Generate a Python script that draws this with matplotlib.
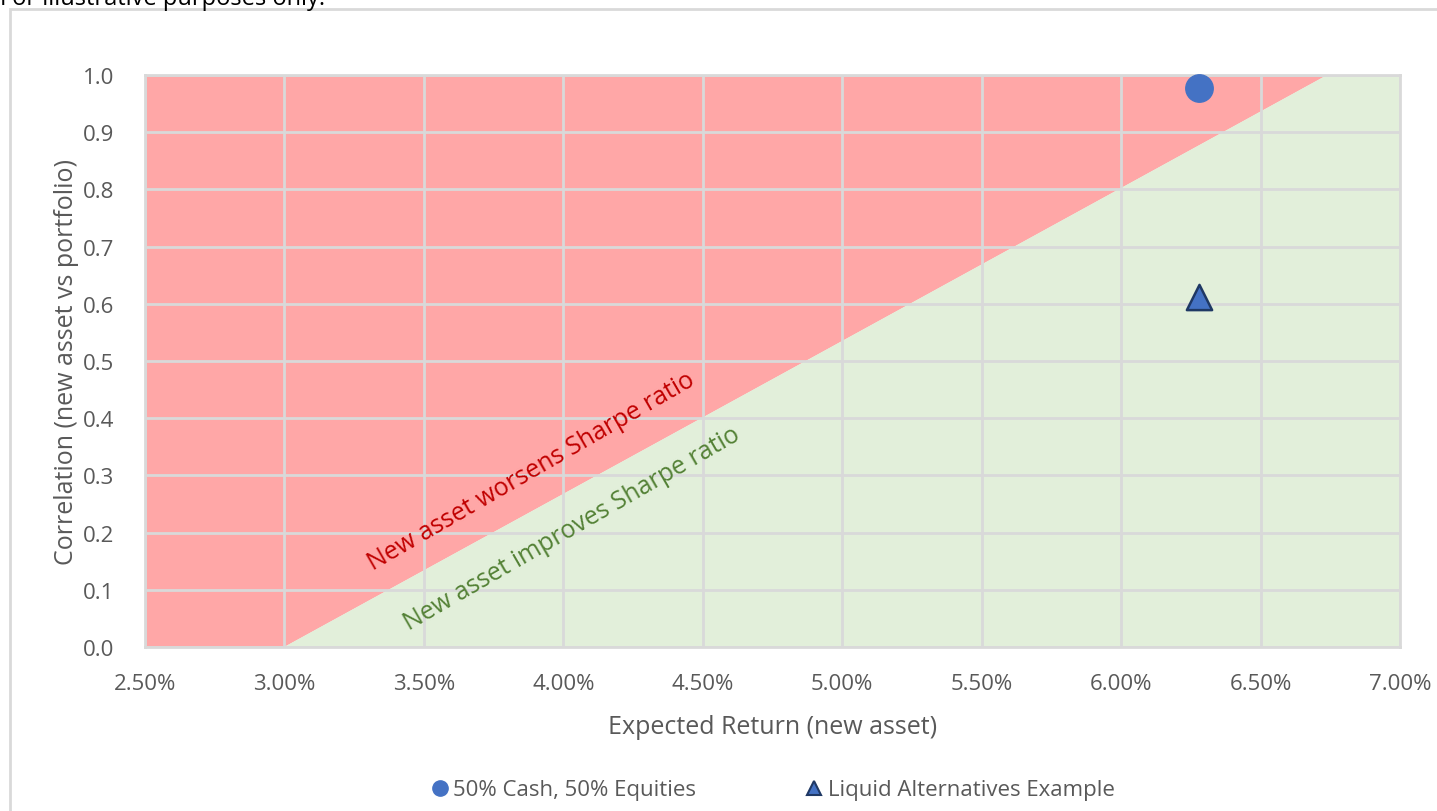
import numpy as np
import matplotlib.pyplot as plt
from matplotlib.patches import Rectangle
from matplotlib.lines import Line2D
from matplotlib.ticker import FuncFormatter

plt.rcParams['font.family'] = ['Open Sans', 'DejaVu Sans']

# Boundary between "worsens" and "improves" regions (expected return %, correlation)
boundary_x = [3.00, 6.74]
boundary_y = [0.0, 1.0]

# Example points
cash_eq_x = [6.28]
cash_eq_y = [0.977]
liq_alt_x = [6.28]
liq_alt_y = [0.612]

x_ticks = [2.5, 3.0, 3.5, 4.0, 4.5, 5.0, 5.5, 6.0, 6.5, 7.0]
y_ticks = [0.0, 0.1, 0.2, 0.3, 0.4, 0.5, 0.6, 0.7, 0.8, 0.9, 1.0]

grey = '#595959'
grid_col = '#D9D9D9'

fig = plt.figure(figsize=(14.37, 8.12), dpi=100)
ax = fig.add_axes([145 / 1437, 164 / 812, 1255 / 1437, 572 / 812])

xmin, xmax = x_ticks[0], x_ticks[-1]
ymin, ymax = y_ticks[0], y_ticks[-1]

# Shaded regions
red_x = [xmin, boundary_x[0], boundary_x[1], xmin]
red_y = [ymin, boundary_y[0], boundary_y[1], ymax]
green_x = [boundary_x[0], xmax, xmax, boundary_x[1]]
green_y = [boundary_y[0], ymin, ymax, boundary_y[1]]
ax.fill(red_x, red_y, color='#FFA7A7', lw=0, zorder=0)
ax.fill(green_x, green_y, color='#E2EFDA', lw=0, zorder=0)

ax.set_xlim(xmin, xmax)
ax.set_ylim(ymin, ymax)
ax.set_xticks(x_ticks)
ax.set_yticks(y_ticks)
ax.xaxis.set_major_formatter(FuncFormatter(lambda v, p: f'{v:.2f}%'))
ax.yaxis.set_major_formatter(FuncFormatter(lambda v, p: f'{v:.1f}'))
ax.tick_params(length=0, labelsize=16, colors=grey)
ax.tick_params(axis='x', pad=19)
ax.tick_params(axis='y', pad=22)
ax.grid(True, color=grid_col, lw=2)
ax.set_axisbelow(False)
for s in ax.spines.values():
    s.set_color(grid_col)
    s.set_linewidth(2)

ax.scatter(cash_eq_x, cash_eq_y, s=390, marker='o', color='#4472C4', zorder=5, clip_on=False)
ax.scatter(liq_alt_x, liq_alt_y, s=330, marker='^', color='#4472C4',
           edgecolor='#1F3864', linewidth=1.8, zorder=5)

ax.text(3.884, 0.308, 'New asset worsens Sharpe ratio', rotation=30, color='#C00000',
        fontsize=18, ha='center', va='center', zorder=6)
ax.text(4.031, 0.208, 'New asset improves Sharpe ratio', rotation=30, color='#538135',
        fontsize=18, ha='center', va='center', zorder=6)

ax.set_xlabel('Expected Return (new asset)', fontsize=18, color=grey, labelpad=14)
ax.set_ylabel('Correlation (new asset vs portfolio)', fontsize=18, color=grey, labelpad=3)

handles = [
    Line2D([], [], marker='o', ls='', color='#4472C4', markersize=11),
    Line2D([], [], marker='^', ls='', color='#4472C4', markeredgecolor='#1F3864',
           markeredgewidth=1.5, markersize=10),
]
fig.legend(handles, ['50% Cash, 50% Equities', 'Liquid Alternatives Example'],
           loc='center', bbox_to_anchor=(0.537, 21 / 812), ncol=2, frameon=False,
           fontsize=16, labelcolor=grey, handletextpad=0.1, columnspacing=4.8,
           handlelength=1.0)

# Outer chart border and caption
fig.patches.append(Rectangle((10 / 1437, -0.05), 1.2, 1 - 10 / 812 + 0.05,
                             transform=fig.transFigure, fill=False,
                             edgecolor=grid_col, lw=2))
fig.text(0.0, 1 - 5 / 812, 'For illustrative purposes only.', fontsize=17,
         color='black', ha='left', va='baseline')

fig.savefig('out.png', dpi=100)
